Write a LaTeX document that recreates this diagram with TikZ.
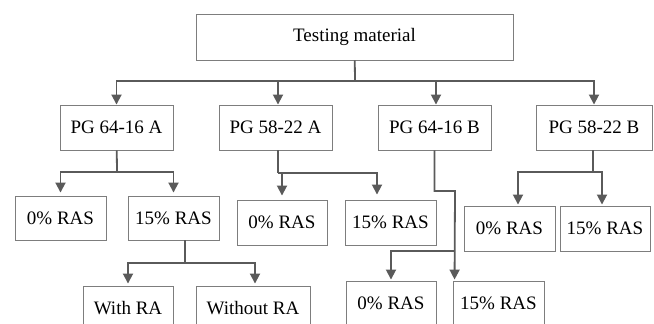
\documentclass[tikz,border=0pt]{standalone}
\usepackage{fontspec}
\setmainfont{Liberation Serif}
\usepackage{tikz}
\usetikzlibrary{arrows.meta}

\definecolor{linegray}{RGB}{90,90,90}
\definecolor{boxgray}{RGB}{125,125,125}

\tikzset{
  box/.style={draw=boxgray,line width=0.9bp,inner sep=0pt,
    font=\fontsize{19bp}{22bp}\selectfont,text=black},
  link/.style={draw=linegray,line width=1.8bp,
    -{Triangle[width=10bp,length=10bp]}},
  trunk/.style={draw=linegray,line width=1.8bp},
}

\begin{document}
\begin{tikzpicture}[line join=miter]
\clip (0bp,0bp) rectangle (654bp,324bp);
%%
\node (tm) at (354.5bp,287.0bp) [box,minimum width=317bp,minimum height=46bp] {Testing material};
  \node (pgA) at (116.5bp,196.5bp) [box,minimum width=113bp,minimum height=45bp] {PG 64-16 A};
  \node (pgB) at (275.5bp,196.5bp) [box,minimum width=113bp,minimum height=45bp] {PG 58-22 A};
  \node (pgC) at (434.5bp,196.5bp) [box,minimum width=113bp,minimum height=45bp] {PG 64-16 B};
  \node (pgD) at (594.0bp,196.5bp) [box,minimum width=116bp,minimum height=45bp] {PG 58-22 B};
  \node (a0) at (60.5bp,106.0bp) [box,minimum width=91bp,minimum height=44bp] {0\% RAS};
  \node (a15) at (173.5bp,106.0bp) [box,minimum width=91bp,minimum height=44bp] {15\% RAS};
  \node (wra) at (128.0bp,16.0bp) [box,minimum width=90bp,minimum height=44bp] {With RA};
  \node (wora) at (253.0bp,16.0bp) [box,minimum width=114bp,minimum height=44bp] {Without RA};
  \node (b0) at (282.0bp,101.5bp) [box,minimum width=90bp,minimum height=45bp] {0\% RAS};
  \node (b15) at (390.5bp,101.5bp) [box,minimum width=91bp,minimum height=45bp] {15\% RAS};
  \node (c0) at (391.0bp,21.0bp) [box,minimum width=90bp,minimum height=44bp] {0\% RAS};
  \node (c15) at (498.5bp,21.0bp) [box,minimum width=91bp,minimum height=44bp] {15\% RAS};
  \node (d0) at (509.5bp,95.5bp) [box,minimum width=91bp,minimum height=45bp] {0\% RAS};
  \node (d15) at (605.0bp,95.5bp) [box,minimum width=90bp,minimum height=45bp] {15\% RAS};
%
\coordinate (j0) at (355.0bp,243.0bp);
  \coordinate (jA) at (117.0bp,152.0bp);
  \coordinate (jW) at (185.0bp,61.0bp);
  \coordinate (jB) at (278.0bp,151.0bp);
  \coordinate (jC) at (455.0bp,133.0bp);
  \coordinate (kC) at (455.0bp,73.0bp);
  \coordinate (jD) at (593.0bp,152.0bp);
%
\draw [trunk] (tm) -- (j0);
  \draw [link] (j0) -| (pgA);
  \draw [link] (j0) -| ([xshift=2.5bp]pgB.north);
  \draw [link] (j0) -| ([xshift=1.5bp]pgC.north);
  \draw [link] (j0) -| (pgD);
  \draw [trunk] (pgA) -- (jA);
  \draw [link,shorten >=3bp] (jA) -| (a0);
  \draw [link,shorten >=3bp] (jA) -| (a15);
  \draw [trunk] (a15.south -| jW) -- (jW);
  \draw [link,shorten >=2bp] (jW) -| (wra);
  \draw [link,shorten >=2bp] (jW) -| ([xshift=2bp]wora.north);
  \draw [trunk] (pgB.south -| jB) -- (jB);
  \draw [link,shorten >=4bp] (jB) -| (b0);
  \draw [link,shorten >=5bp] (jB) -| ([xshift=-13.5bp]b15.north);
  \draw [link,shorten >=1bp] (pgC) |- (jC) -- ([xshift=2bp]c15.north west);
  \draw [link,shorten >=1bp] (kC) -| (c0);
  \draw [trunk] (pgD.south -| jD) -- (jD);
  \draw [link,shorten >=1bp] (jD) -| ([xshift=8.5bp]d0.north);
  \draw [link,shorten >=1bp] (jD) -| ([xshift=-3bp]d15.north);
%
\end{tikzpicture}
\end{document}
